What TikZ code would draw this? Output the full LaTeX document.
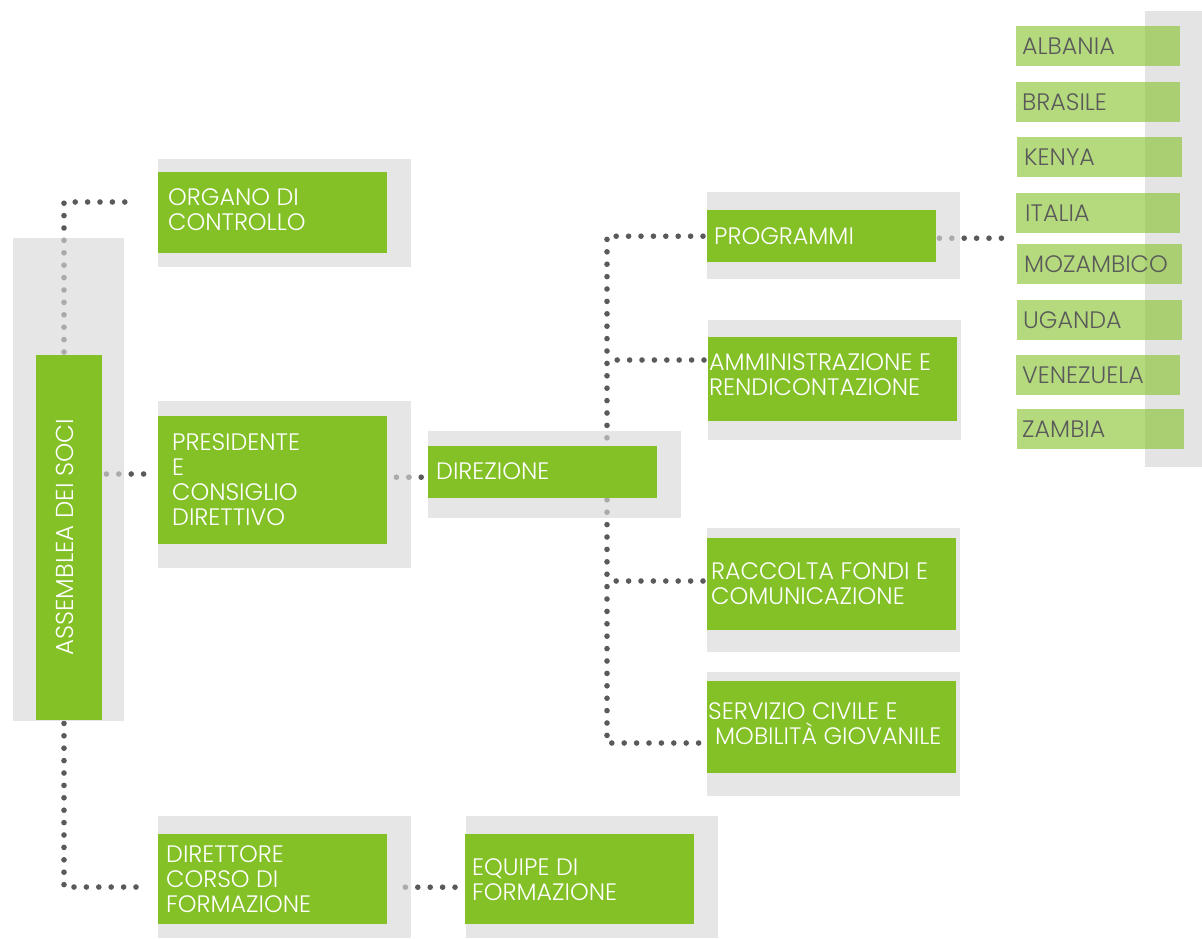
\documentclass[tikz,border=0pt]{standalone}
\usepackage{fontspec}
\setmainfont{Poppins}[UprightFont=*-Light]
\usetikzlibrary{calc}
\definecolor{mygreen}{RGB}{131,193,39}
\definecolor{dotgray}{RGB}{90,90,90}
\definecolor{boxgray}{RGB}{216,216,216}
\definecolor{coltext}{RGB}{90,90,90}
\tikzset{
  dots/.style={draw=dotgray, line width=5.6pt, line cap=round, dash pattern=on 0pt off 12.4pt},
  bgbox/.style={fill=boxgray, fill opacity=0.64},
  gbox/.style={fill=mygreen, draw=none, inner sep=0pt, anchor=north west},
  cbox/.style={fill=mygreen, fill opacity=0.6, draw=none, inner sep=0pt, anchor=north west, minimum height=40pt},
  lbl/.style={text=white, inner sep=0pt, anchor=west, align=left, font=\fontsize{23.8}{25}\selectfont},
  clbl/.style={text=coltext, inner sep=0pt, anchor=west, font=\fontsize{23.8}{25}\selectfont},
}
\begin{document}
\begin{tikzpicture}[x=1pt,y=-1pt]
\useasboundingbox (0,0) rectangle (1202,938);
% green boxes (named, drawn invisibly first for connector anchors)
\path
  (36,355) node[gbox, fill=none, minimum width=66, minimum height=365] (ass) {}
  (158,172) node[gbox, fill=none, minimum width=229, minimum height=81] (org) {}
  (158,416) node[gbox, fill=none, minimum width=229, minimum height=128] (pres) {}
  (428,446) node[gbox, fill=none, minimum width=229, minimum height=52] (dir) {}
  (707,210) node[gbox, fill=none, minimum width=229, minimum height=52] (prog) {}
  (708,337) node[gbox, fill=none, minimum width=249, minimum height=84] (amm) {}
  (707,538) node[gbox, fill=none, minimum width=249, minimum height=92] (racc) {}
  (707,681) node[gbox, fill=none, minimum width=249, minimum height=92] (serv) {}
  (158,834) node[gbox, fill=none, minimum width=229, minimum height=90] (dirt) {}
  (465,834) node[gbox, fill=none, minimum width=229, minimum height=90] (equ) {};
% connectors
\coordinate (cOrg) at ($(org.north west)+(-30,30)$);
\draw[dots] ($(ass.north west)+(28,-3)$) |- (cOrg);
\coordinate (cPres) at ($(pres.north west)+(-4,58)$);
\draw[dots] ($(ass.east |- cPres)+(4,0)$) -- (cPres);
\draw[dots] ($(pres.east)+(9,-3)$) -- ($(dir.west)+(-3,5)$);
\coordinate (trunk) at (607,471);
\draw[dots] ($(prog.west)+(-4,0)$) -| (trunk) |- ($(serv.north west)+(-4,62)$);
\draw[dots] ($(amm.north west)+(-4,23)$) -- ($(amm.north west)+(0,23)-(101,0)$);
\draw[dots] ($(racc.north west)+(-4,43)$) -- ($(racc.north west)+(0,43)-(100,0)$);
\coordinate (cCountry) at ($(prog.east)+(67,2)$);
\draw[dots] ($(prog.east)+(3,2)$) -- (cCountry);
\coordinate (cDirt) at ($(dirt.north west)+(-19,53)$);
\draw[dots] ($(ass.south west)+(28,3)$) |- (cDirt);
\draw[dots] ($(dirt.east)+(18,8)$) -- ($(equ.west)+(-10,8)$);
% grey backgrounds
\fill[bgbox] (13,238) rectangle (124,721);
\fill[bgbox] (158,159) rectangle (411,267);
\fill[bgbox] (158,401) rectangle (411,568);
\fill[bgbox] (428,431) rectangle (681,518);
\fill[bgbox] (707,192) rectangle (960,279);
\fill[bgbox] (708,320) rectangle (961,440);
\fill[bgbox] (707,528) rectangle (960,652);
\fill[bgbox] (707,672) rectangle (960,796);
\fill[bgbox] (158,816) rectangle (411,938);
\fill[bgbox] (466,816) rectangle (718,938);
% green fills
\foreach \n in {ass,org,pres,dir,prog,amm,racc,serv,dirt,equ}
  \fill[mygreen] (\n.north west) rectangle (\n.south east);
% labels
\node[text=white, inner sep=0pt, rotate=90, font=\fontsize{24.5}{25}\selectfont] (tAss) at (65,537) {ASSEMBLEA DEI SOCI};
\node[lbl] (tOrg) at (168,210) {ORGANO DI\\CONTROLLO};
\node[lbl] (tPres) at (172,480) {PRESIDENTE\\E\\CONSIGLIO\\DIRETTIVO};
\node[lbl] (tDir) at (436,471) {DIREZIONE};
\node[lbl] (tProg) at (714,236) {PROGRAMMI};
\node[lbl] (tAmm) at (709,375) {AMMINISTRAZIONE E\\RENDICONTAZIONE};
\node[lbl] (tRacc) at (711,584) {RACCOLTA FONDI E\\COMUNICAZIONE};
\node[lbl] (tServ) at (708,724) {SERVIZIO CIVILE E\\\hspace*{7pt}MOBILITÀ GIOVANILE};
\node[lbl] (tDirt) at (166,879) {DIRETTORE\\CORSO DI\\FORMAZIONE};
\node[lbl] (tEqu) at (472,880) {EQUIPE DI\\FORMAZIONE};
% countries
\fill[boxgray!70!white] (1145,11) rectangle (1202,467);
\node[cbox, minimum width=164] (alb) at (1016,26) {};
\node[cbox, minimum width=164] (bra) at (1016,82) {};
\node[cbox, minimum width=165] (ken) at (1017,137) {};
\node[cbox, minimum width=164] (ita) at (1016,193) {};
\node[cbox, minimum width=165] (moz) at (1017,244) {};
\node[cbox, minimum width=165] (uga) at (1017,300) {};
\node[cbox, minimum width=164] (ven) at (1016,355) {};
\node[cbox, minimum width=167] (zam) at (1017,409) {};
\node[clbl] (tAlb) at (1022,46) {ALBANIA};
\node[clbl] (tBra) at (1022,102) {BRASILE};
\node[clbl] (tKen) at (1024,157) {KENYA};
\node[clbl] (tIta) at (1025,213) {ITALIA};
\node[clbl] (tMoz) at (1024,264) {MOZAMBICO};
\node[clbl] (tUga) at (1023,320) {UGANDA};
\node[clbl] (tVen) at (1022,375) {VENEZUELA};
\node[clbl] (tZam) at (1022,429) {ZAMBIA};
\end{tikzpicture}
\end{document}
